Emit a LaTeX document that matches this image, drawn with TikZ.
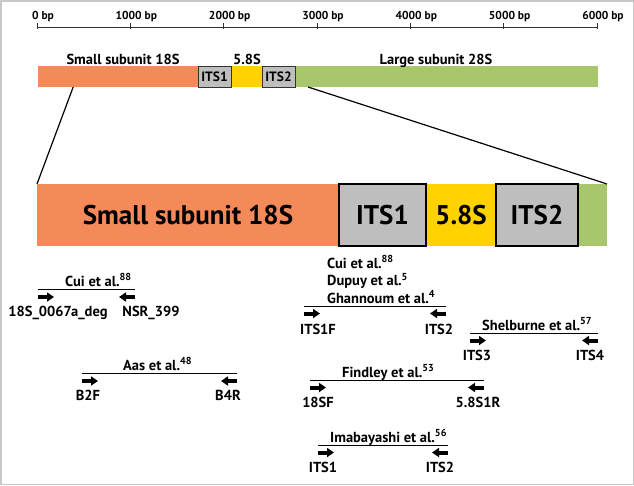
\documentclass[tikz,border=0pt]{standalone}
\usepackage{fontspec}
\setmainfont{PT Sans}
\usetikzlibrary{positioning, arrows.meta, calc}
\definecolor{rorange}{HTML}{F4895A}
\definecolor{ryellow}{HTML}{FFD200}
\definecolor{rgreen}{HTML}{A8C66C}
\definecolor{rgray}{HTML}{BEBEBE}
\definecolor{rframe}{HTML}{C8C8C8}

\begin{document}
\begin{tikzpicture}[x=1pt, y=-1pt, every node/.style={font=\bfseries},
          seg/.style={anchor=north west, inner sep=0pt, outer sep=0pt, minimum height=21pt, font=\fontsize{13.5}{13.5}\selectfont\bfseries},
          big/.style={anchor=north west, inner sep=0pt, outer sep=0pt, minimum height=62pt, font=\fontsize{27}{27}\selectfont\bfseries},
          its/.style={draw=black!80, fill=rgray, line width=0.8pt},
          bits/.style={draw=black, fill=rgray, line width=2pt},
          zl/.style={line width=1.2pt},
          pl/.style={line width=0.8pt},
          fwd/.style={line width=4pt, -{Triangle[length=7pt, width=9pt]}},
          ttl/.style={anchor=base west, inner sep=0pt, font=\fontsize{14.5}{14.5}\selectfont\bfseries},
          lbl/.style={anchor=base, inner sep=0pt, font=\fontsize{14.5}{14.5}\selectfont\bfseries},
          bp/.style={anchor=base, inner sep=0pt, font=\fontsize{11.5}{11.5}\selectfont\bfseries}]
        \useasboundingbox (0,0) rectangle (634,485);
        \draw[rframe, line width=1.5pt] (0.75,0.75) rectangle (633.25,484.25);

        \coordinate (ax0) at (37,27);
        \coordinate (ax6) at (597,27);
        \draw[pl, black!80] (ax0) -- (ax6);
        \foreach \i in {0,...,6}{
          \pgfmathtruncatemacro\v{\i*1000}
          \draw[pl, black!80] ({37+\i*93.33},23) -- ({37+\i*93.33},29);
          \node[bp] (bp\i) at ({43+\i*93.33},19) {\v\ bp};
        }

        \node[seg, fill=rorange, minimum width=160pt] (t18) at (38,66) {};
        \node[seg, fill=ryellow, minimum width=31pt] (t58) at (231,66) {};
        \node[seg, fill=rgreen, minimum width=303pt] (t28) at (295,66) {};
        \node[seg, its, minimum width=33pt] (tits1) at (198,66) {ITS1};
        \node[seg, its, minimum width=33pt] (tits2) at (262,66) {ITS2};
        \node[lbl] (l18) at (123,64) {Small subunit 18S};
        \node[lbl] (l58) at (247,64) {5.8S};
        \node[lbl] (l28) at (436,64) {Large subunit 28S};

        \node[big, fill=rorange, minimum width=302pt] (b18) at (37,184) {Small subunit 18S};
        \node[big, fill=ryellow, minimum width=70pt] (b58) at (426,184) {5.8S};
        \node[big, fill=rgreen, minimum width=29pt] (b28) at (578,184) {};
        \node[big, bits, minimum width=87pt] (bits1) at (339,184) {ITS1};
        \node[big, bits, minimum width=82pt] (bits2) at (496,184) {ITS2};

        \coordinate (z1) at ($(t18.south west)!0.22!(t18.south east)$);
        \coordinate (z2) at ($(t28.south west)!0.043!(t28.south east)$);
        \draw[zl] (z1) -- (b18.north west);
        \draw[zl] (z2) -- (b28.north east);

        \coordinate (cuiL) at (38,289);
        \coordinate (cuiR) at (135,289);
        \draw[pl] (cuiL) -- (cuiR);
        \draw[fwd] ([yshift=-8pt]cuiL) -- ++(16,0);
        \draw[fwd] ([yshift=-8pt]cuiR) -- ++(-16,0);
        \node[ttl] (cui) at (65,286) {Cui et al.\textsuperscript{88}};
        \node[lbl] (p18s) at (58,316) {18S\_0067a\_deg};
        \node[lbl] (pnsr) at (151,316) {NSR\_399};

        \coordinate (aasL) at (82,373);
        \coordinate (aasR) at (237,373);
        \draw[pl] (aasL) -- (aasR);
        \draw[fwd] ([yshift=-8pt]aasL) -- ++(16,0);
        \draw[fwd] ([yshift=-8pt]aasR) -- ++(-16,0);
        \node[ttl] (aas) at (123,370) {Aas et al.\textsuperscript{48}};
        \node[lbl] (pb2f) at (88,400) {B2F};
        \node[lbl] (pb4r) at (228,400) {B4R};

        \coordinate (itsL) at (304,306);
        \coordinate (itsR) at (446,306);
        \draw[pl] (itsL) -- (itsR);
        \draw[fwd] ([yshift=-7.5pt]itsL) -- ++(16,0);
        \draw[fwd] ([yshift=-7.5pt]itsR) -- ++(-16,0);
        \node[ttl] (cui2) at (327,268) {Cui et al.\textsuperscript{88}};
        \node[ttl] (dup) at (327,285.5) {Dupuy et al.\textsuperscript{5}};
        \node[ttl] (gha) at (327,303) {Ghannoum et al.\textsuperscript{4}};
        \node[lbl] (pits1f) at (318,334) {ITS1F};
        \node[lbl] (pits2a) at (439,334) {ITS2};

        \coordinate (shL) at (470,333);
        \coordinate (shR) at (598,333);
        \draw[pl] (shL) -- (shR);
        \draw[fwd] ([yshift=-7.5pt]shL) -- ++(16,0);
        \draw[fwd] ([yshift=-7.5pt]shR) -- ++(-16,0);
        \node[ttl] (she) at (482,330) {Shelburne et al.\textsuperscript{57}};
        \node[lbl] (pits3) at (477,360) {ITS3};
        \node[lbl] (pits4) at (590,360) {ITS4};

        \coordinate (fiL) at (310,380);
        \coordinate (fiR) at (484,380);
        \draw[pl] (fiL) -- (fiR);
        \draw[fwd] ([yshift=-7.5pt]fiL) -- ++(16,0);
        \draw[fwd] ([yshift=-7.5pt]fiR) -- ++(-16,0);
        \node[ttl] (fin) at (342,377) {Findley et al.\textsuperscript{53}};
        \node[lbl] (p18sf) at (318,407) {18SF};
        \node[lbl] (p58r) at (478,407) {5.8S1R};

        \coordinate (imL) at (318,445);
        \coordinate (imR) at (448,445);
        \draw[pl] (imL) -- (imR);
        \draw[fwd] ([yshift=-7.5pt]imL) -- ++(16,0);
        \draw[fwd] ([yshift=-7.5pt]imR) -- ++(-16,0);
        \node[ttl] (ima) at (330,442) {Imabayashi et al.\textsuperscript{56}};
        \node[lbl] (pits1) at (323,472) {ITS1};
        \node[lbl] (pits2b) at (440,472) {ITS2};
      \end{tikzpicture}
\end{document}
